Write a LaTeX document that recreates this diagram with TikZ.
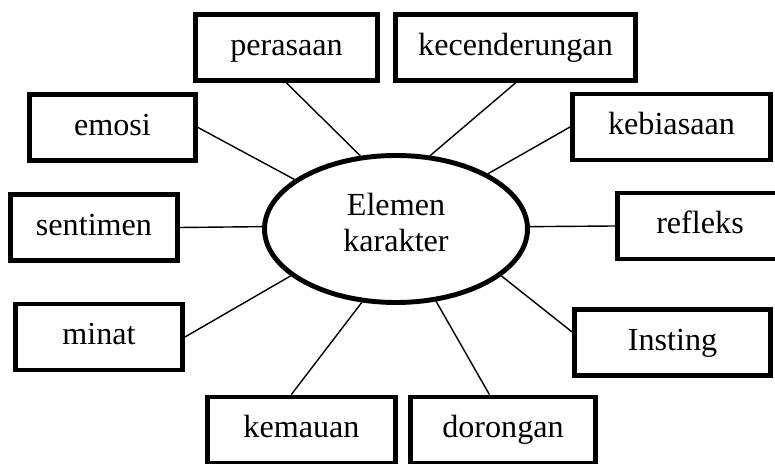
\documentclass[tikz,border=0pt]{standalone}
\usepackage{fontspec}
\setmainfont{Liberation Serif}
\usepackage{tikz}
\usetikzlibrary{shapes.geometric}

\begin{document}
\begin{tikzpicture}[font=\fontsize{18.3}{20.5}\selectfont,
    kotak/.style={rectangle,draw,line width=2.8pt,minimum height=1.32cm,inner sep=0pt,
      text height=0.5cm,text depth=0.18cm},
    garis/.style={line width=0.8pt}]

    \useasboundingbox (0,0) rectangle (15.5,9.28);

    \node[ellipse,draw,line width=2.8pt,minimum width=5.26cm,minimum height=2.94cm,align=center,
      text depth=0.26cm] (el) at (7.92, 4.70) {Elemen\\karakter};

    \node[kotak,minimum width=3.64cm]         (pe) at (5.73, 8.33)      {perasaan};
    \node[kotak,minimum width=4.80cm]         (ke) at (10.31, 8.33)     {kecenderungan};
    \node[kotak,minimum width=3.32cm]         (em) at (2.25, 6.73)      {emosi};
    \node[kotak,minimum width=3.96cm]         (kb) at (13.43, 6.74)     {kebiasaan};
    \node[kotak,minimum width=3.34cm]         (se) at (1.88, 4.73)      {sentimen};
    \node[kotak,minimum width=3.30cm]         (re) at (14.0, 4.76)      {refleks};
    \node[kotak,minimum width=3.34cm]         (mi) at (1.98, 2.54)      {minat};
    \node[kotak,minimum width=3.92cm]         (is) at (13.45, 2.43)     {Insting};
    \node[kotak,minimum width=3.76cm]         (km) at (6.03, 0.68)      {kemauan};
    \node[kotak,minimum width=3.70cm]         (do) at (10.06, 0.68)     {dorongan};

    \draw (pe.south) edge[garis]  (el.116);
    \draw (ke.south) edge[garis]  (el.65);
    \draw (em.east)  edge[garis]  (el.154);
    \draw (kb.west)  edge[garis]  (el.31);
    \draw (se.east)  edge[garis]  (el.179.5);
    \draw (re.west)  edge[garis]  (el.1.3);
    \draw (mi.east)  edge[garis]  (el.204);
    \draw (is.174)   edge[garis]  (el.336);
    \draw (km.106)   edge[garis]  (el.245);
    \draw (do.111)   edge[garis]  (el.299);
  \end{tikzpicture}
\end{document}
